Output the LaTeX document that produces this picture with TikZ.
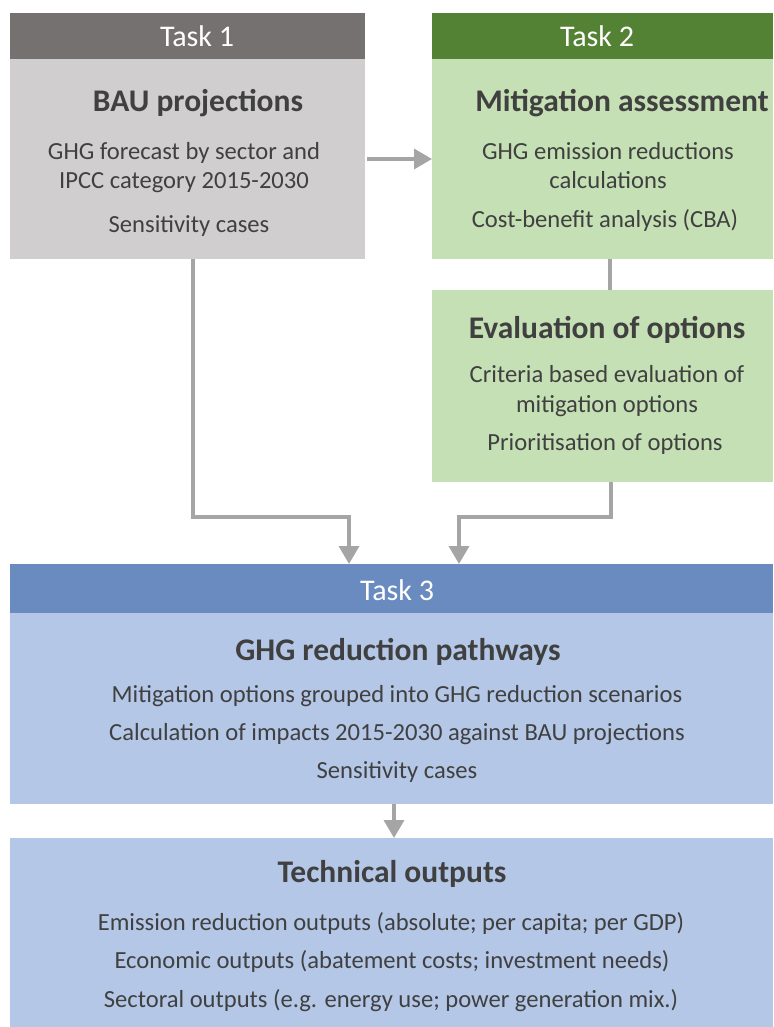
\documentclass[tikz,border=0pt]{standalone}
\usepackage{fontspec}
\setmainfont{Carlito}
\usetikzlibrary{arrows.meta}
\definecolor{tonehead}{HTML}{767171}
\definecolor{tonebody}{HTML}{D0CECE}
\definecolor{ttwohead}{HTML}{548235}
\definecolor{ttwobody}{HTML}{C5E0B4}
\definecolor{tthreehead}{HTML}{6A8BBF}
\definecolor{tthreebody}{HTML}{B4C7E7}
\definecolor{txt}{HTML}{404040}
\definecolor{connc}{HTML}{A5A5A5}
\tikzset{
  boxshape/.style={rectangle, draw=none, inner sep=0pt, outer sep=0pt, anchor=north west},
  headtxt/.style={anchor=base, inner sep=0pt, text=white, font=\fontsize{30}{36}\selectfont},
  titletxt/.style={anchor=base, inner sep=0pt, text=txt, font=\fontsize{31.5}{37}\selectfont\bfseries},
  bodytxt/.style={anchor=base, inner sep=0pt, text=txt, font=\fontsize{24.6}{29}\selectfont},
  conn/.style={draw=connc, line width=3.5pt, line join=miter},
  conntip/.style={conn, -{Triangle[width=20pt,length=18pt]}}
}
\begin{document}
\begin{tikzpicture}[x=1pt,y=-1pt]
\useasboundingbox (0,0) rectangle (773,1027);
% boxes
\node[boxshape, fill=tonehead, minimum width=355pt, minimum height=46pt] (t1h) at (10,13) {};
\node[boxshape, fill=tonebody, minimum width=355pt, minimum height=200pt] (t1b) at (10,59) {};
\node[boxshape, fill=ttwohead, minimum width=341pt, minimum height=46pt] (t2h) at (432,13) {};
\node[boxshape, fill=ttwobody, minimum width=341pt, minimum height=200pt] (t2b) at (432,59) {};
\node[boxshape, fill=ttwobody, minimum width=341pt, minimum height=192pt] (evb) at (432,290) {};
\node[boxshape, fill=tthreehead, minimum width=763pt, minimum height=49pt] (t3h) at (10,564) {};
\node[boxshape, fill=tthreebody, minimum width=763pt, minimum height=191pt] (t3b) at (10,613) {};
\node[boxshape, fill=tthreebody, minimum width=763pt, minimum height=189pt] (tech) at (10,838) {};
% texts task 1
\node[headtxt] (t1ht) at (197,47) {Task 1};
\node[titletxt] (t1tt) at (198,112) {BAU projections};
\node[bodytxt] (t1l1) at (184,160) {GHG forecast by sector and};
\node[bodytxt] (t1l2) at (184,189) {IPCC category 2015-2030};
\node[bodytxt] (t1l3) at (189,232) {Sensitivity cases};
% texts task 2
\node[headtxt] (t2ht) at (597,47) {Task 2};
\node[titletxt] (t2tt) at (622,112) {Mitigation assessment};
\node[bodytxt] (t2l1) at (608,160) {GHG emission reductions};
\node[bodytxt] (t2l2) at (608,189) {calculations};
\node[bodytxt] (t2l3) at (605,227) {Cost-benefit analysis (CBA)};
% evaluation
\node[titletxt] (evtt) at (607,338) {Evaluation of options};
\node[bodytxt] (evl1) at (607,382) {Criteria based evaluation of};
\node[bodytxt] (evl2) at (607,412) {mitigation options};
\node[bodytxt] (evl3) at (605,450) {Prioritisation of options};
% task 3
\node[headtxt] (t3ht) at (397,600) {Task 3};
\node[titletxt] (t3tt) at (398,660) {GHG reduction pathways};
\node[bodytxt] (t3l1) at (397,702) {Mitigation options grouped into GHG reduction scenarios};
\node[bodytxt] (t3l2) at (397,740) {Calculation of impacts 2015-2030 against BAU projections};
\node[bodytxt] (t3l3) at (397,778) {Sensitivity cases};
% technical outputs
\node[titletxt] (tctt) at (392,882) {Technical outputs};
\node[bodytxt] (tcl1) at (391,930) {Emission reduction outputs (absolute; per capita; per GDP)};
\node[bodytxt] (tcl2) at (392,968) {Economic outputs (abatement costs; investment needs)};
\node[bodytxt] (tcl3) at (391,1007) {Sectoral outputs (e.g. energy use; power generation mix.)};
% connector helper coordinates
\coordinate (aone) at (0,159);
\coordinate (jonea) at (193,0);
\coordinate (joneb) at (349,517);
\coordinate (jtwoa) at (611,0);
\coordinate (jtwob) at (459,517);
\coordinate (jthree) at (610,0);
\coordinate (atwo) at (394,0);
% connectors
\draw[conntip] ([xshift=2pt]t1b.east |- aone) -- (t2b.west |- aone);
\draw[conn] (t2b.south -| jthree) -- (evb.north -| jthree);
\draw[conntip] (t1b.south -| jonea) |- (joneb) -- (joneb |- t3h.north);
\draw[conntip] (evb.south -| jtwoa) |- (jtwob) -- (jtwob |- t3h.north);
\draw[conntip] (t3b.south -| atwo) -- (tech.north -| atwo);
\end{tikzpicture}
\end{document}
